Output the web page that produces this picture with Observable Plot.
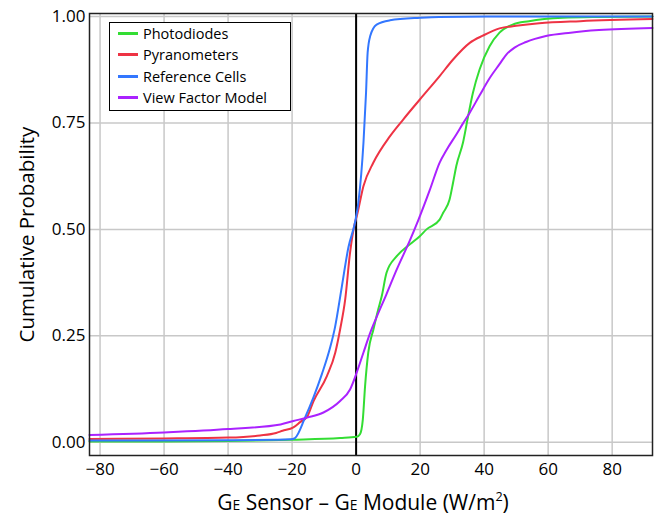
<!DOCTYPE html>
<html>
<head>
<meta charset="utf-8">
<script src="https://cdn.jsdelivr.net/npm/d3@7"></script>
<script src="https://cdn.jsdelivr.net/npm/@observablehq/plot@0.6"></script>
<style>
  html, body { margin: 0; padding: 0; background: #fff; }
  #wrap { position: relative; width: 659px; height: 517px; font-family: "Open Sans", sans-serif; color: #000; }
  #legend { position: absolute; left: 109px; top: 22px; width: 182px; height: 89px; border: 1px solid #000; background: #fff; box-sizing: border-box; padding-top: 0px; }
  .row { display: flex; align-items: center; height: 21.3px; font-size: 14.5px; }
  .sw { width: 20px; height: 3px; margin-left: 8px; margin-right: 5px; }
  #xtitle { position: absolute; left: 0; width: 726px; top: 490px; text-align: center; font-size: 21px; line-height: 24px; }
  #xtitle .e { font-size: 0.66em; }
  #xtitle sup { font-size: 0.6em; vertical-align: 0.7em; line-height: 0; }
</style>
</head>
<body>
<div id="wrap"></div>
<script>
const seriesNames = ["Photodiodes", "Pyranometers", "Reference Cells", "View Factor Model"];
const seriesColors = ["#33dd33", "#ee3344", "#3377ff", "#aa22ff"];

const xTicks = [-80, -60, -40, -20, 0, 20, 40, 60, 80];
const yTicks = [0, 0.25, 0.5, 0.75, 1.0];
const zeroLine = [0];

// Photodiodes
const photoX = [-83.3, -60, -40, -20, -5, 0.2, 1.2, 2.1, 2.8, 3.8, 5.4, 6.9, 8.0, 9.5, 12.7, 16.8, 19.9, 22, 26.1, 27.2, 29.2, 30.3, 31.3, 33.4, 35, 36.5, 38.6, 41.7, 44.8, 48.9, 54, 64.5, 75, 92.6];
const photoP = [0.002, 0.002, 0.003, 0.006, 0.010, 0.013, 0.019, 0.054, 0.132, 0.211, 0.265, 0.312, 0.343, 0.398, 0.437, 0.465, 0.484, 0.500, 0.523, 0.539, 0.570, 0.610, 0.649, 0.704, 0.766, 0.821, 0.876, 0.930, 0.962, 0.981, 0.989, 0.997, 0.999, 1.0];

// Pyranometers
const pyraX = [-83.3, -60, -40, -30, -25, -23, -19.6, -17.4, -15.3, -13.3, -9.1, -6.5, -5.0, -3.4, -1.9, -0.3, 0.2, 2.3, 5.4, 10.6, 14.7, 19.9, 26.1, 30.3, 35.5, 39.6, 44.8, 50, 57.2, 70, 92.6];
const pyraP = [0.008, 0.009, 0.011, 0.016, 0.022, 0.027, 0.035, 0.048, 0.060, 0.097, 0.156, 0.211, 0.265, 0.336, 0.445, 0.518, 0.531, 0.602, 0.657, 0.719, 0.758, 0.805, 0.860, 0.899, 0.938, 0.955, 0.972, 0.978, 0.984, 0.989, 0.994];

// Reference Cells
const refX = [-83.3, -40, -25, -20.5, -19.1, -15.9, -13.3, -10.7, -8.1, -6.6, -4.5, -2.4, -0.3, 0.7, 2.3, 3.1, 3.6, 4.4, 6.4, 10.6, 20, 26, 50, 92.6];
const refP = [0.004, 0.005, 0.006, 0.007, 0.010, 0.059, 0.106, 0.160, 0.223, 0.270, 0.364, 0.458, 0.518, 0.563, 0.704, 0.821, 0.915, 0.954, 0.981, 0.991, 0.997, 0.999, 1.0, 1.0];

// View Factor Model
const vfmX = [-83.3, -60, -40, -23.6, -19.6, -15.3, -10.2, -5.0, -1.9, 0.2, 2.3, 4.4, 6.4, 9.5, 12.7, 16.8, 19.4, 23, 26.1, 28.2, 31.3, 33.4, 35.5, 38.6, 41.7, 44.8, 47, 49.5, 53.1, 59.3, 67, 75.9, 92.6];
const vfmP = [0.017, 0.023, 0.031, 0.042, 0.050, 0.058, 0.070, 0.097, 0.124, 0.164, 0.211, 0.257, 0.294, 0.348, 0.406, 0.474, 0.521, 0.592, 0.657, 0.686, 0.723, 0.749, 0.774, 0.815, 0.855, 0.888, 0.911, 0.927, 0.940, 0.954, 0.962, 0.968, 0.973];

const seriesX = [photoX, pyraX, refX, vfmX];
const seriesP = [photoP, pyraP, refP, vfmP];

const rows = [];
seriesNames.forEach((name, i) => {
  seriesX[i].forEach((x, j) => rows.push({series: name, x, p: seriesP[i][j]}));
});

const chart = Plot.plot({
  width: 659,
  height: 486,
  marginLeft: 89,
  marginRight: 7,
  marginTop: 13,
  marginBottom: 31,
  style: {fontFamily: "'Open Sans', sans-serif", fontSize: "17px", color: "#000", background: "#fff"},
  x: {domain: [-83.3, 92.6]},
  y: {domain: [-0.031, 1.007]},
  color: {domain: seriesNames, range: seriesColors},
  marks: [
    Plot.gridX(xTicks, {stroke: "#c8c8c8", strokeOpacity: 1, strokeWidth: 1.5}),
    Plot.gridY(yTicks, {stroke: "#c8c8c8", strokeOpacity: 1, strokeWidth: 1.5}),
    Plot.axisX(xTicks, {tickSize: 0, tickPadding: 7, label: null, fontSize: 17}),
    Plot.axisY(yTicks, {tickSize: 0, tickPadding: 4, tickFormat: d3.format(".2f"), fontSize: 17,
      label: "Cumulative Probability", labelAnchor: "center", labelArrow: "none", labelOffset: 70}),
    Plot.ruleX(zeroLine, {stroke: "#000", strokeWidth: 2}),
    Plot.line(rows, {x: "x", y: "p", stroke: "series", z: "series", strokeWidth: 2, curve: "monotone-x"}),
    Plot.frame({stroke: "#222", strokeWidth: 1.5})
  ]
});

const wrap = document.getElementById("wrap");
wrap.appendChild(chart);

chart.querySelectorAll("g[aria-label='y-axis label'] text").forEach(t => t.setAttribute("font-size", "20.5"));

const legend = document.createElement("div");
legend.id = "legend";
seriesNames.forEach((name, i) => {
  const row = document.createElement("div");
  row.className = "row";
  const sw = document.createElement("div");
  sw.className = "sw";
  sw.style.background = seriesColors[i];
  const lab = document.createElement("span");
  lab.textContent = name;
  row.appendChild(sw);
  row.appendChild(lab);
  legend.appendChild(row);
});
wrap.appendChild(legend);

const xt = document.createElement("div");
xt.id = "xtitle";
xt.innerHTML = 'G<span class="e">E</span> Sensor \u2013 G<span class="e">E</span> Module (W/m<sup>2</sup>)';
wrap.appendChild(xt);
</script>
</body>
</html>
